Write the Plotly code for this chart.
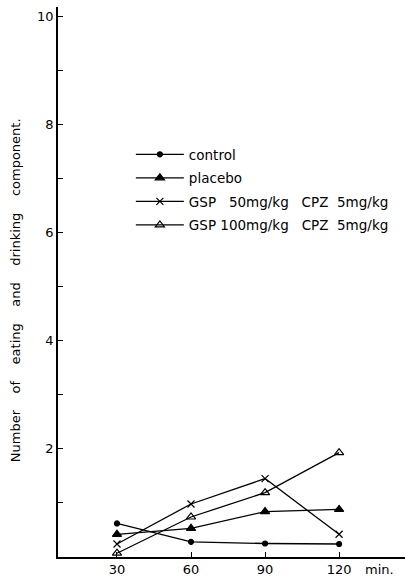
import plotly.graph_objects as go

# Sampling times (min) and mean counts per group
times = [30, 60, 90, 120]
control = [0.62, 0.28, 0.25, 0.24]
placebo = [0.42, 0.53, 0.84, 0.88]
gsp50_cpz5 = [0.24, 0.98, 1.45, 0.42]
gsp100_cpz5 = [0.07, 0.74, 1.19, 1.93]

NB = "\u00a0"
series_names = [
    "control",
    "placebo",
    f"GSP{NB*3}50mg/kg{NB*3}CPZ{NB*2}5mg/kg",
    f"GSP{NB}100mg/kg{NB*3}CPZ{NB*2}5mg/kg",
]
series_values = [control, placebo, gsp50_cpz5, gsp100_cpz5]
series_symbols = ["circle", "triangle-up", "x-thin", "triangle-up-open"]
series_sizes = [5, 8, 7, 8]

y_tickvals = list(range(1, 11))
y_ticktext = [str(v) if v % 2 == 0 else "" for v in y_tickvals]

y_title_words = ["Number", "of", "eating", "and", "drinking", "component."]

FONT = "DejaVu Sans, Liberation Sans, sans-serif"

fig = go.Figure()
for i, (name, vals, sym, size) in enumerate(zip(series_names, series_values,
                                                 series_symbols, series_sizes)):
    fig.add_trace(go.Scatter(
        x=times, y=vals, name=name, mode="lines+markers", legendgroup=f"g{i}",
        line=dict(color="black", width=1.3),
        marker=dict(symbol=sym, size=size, color="black",
                    line=dict(color="black", width=1.2)),
    ))

fig.update_layout(
    width=405, height=583,
    margin=dict(l=58, r=0, t=7, b=26),
    paper_bgcolor="white", plot_bgcolor="white",
    font=dict(family=FONT, color="black"),
    showlegend=True,
    legend=dict(
        x=0.21, y=0.76, xanchor="left", yanchor="top",
        bgcolor="rgba(0,0,0,0)", font=dict(size=13.5, family=FONT),
        itemwidth=48, tracegroupgap=3,
    ),
    xaxis=dict(
        range=[6.1, 146.7], tickvals=times, ticktext=[str(t) for t in times],
        showline=True, linecolor="black", linewidth=1.5,
        ticks="inside", ticklen=5, tickcolor="black",
        showgrid=False, zeroline=False, tickfont=dict(size=13),
    ),
    yaxis=dict(
        range=[0, 10.17], tickvals=y_tickvals, ticktext=y_ticktext,
        showline=True, linecolor="black", linewidth=1.5,
        ticks="inside", ticklen=5, tickcolor="black",
        showgrid=False, zeroline=False, tickfont=dict(size=13),
    ),
)

# Vertical axis caption, set slightly below the plot's centre
fig.add_annotation(
    text=(NB * 4).join(y_title_words), textangle=-90,
    xref="paper", yref="paper", x=-0.124, y=0.485,
    xanchor="center", yanchor="middle", showarrow=False, font=dict(size=13),
)

fig.add_annotation(
    text="min.", xref="paper", yref="paper", x=0.927, y=-0.022,
    xanchor="center", yanchor="middle", showarrow=False, font=dict(size=13),
)

fig.write_html("out.html")
